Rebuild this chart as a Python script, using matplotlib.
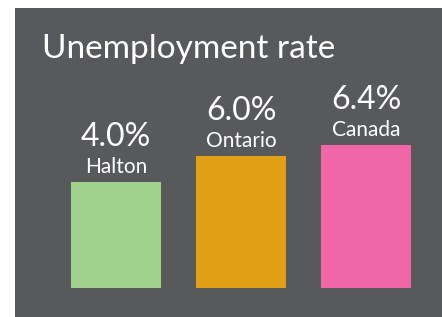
import matplotlib
matplotlib.use("Agg")
import matplotlib.pyplot as plt

# data
regions = ["Halton", "Ontario", "Canada"]
rates = [4.0, 6.0, 6.4]
# bar heights as drawn in the graphic (not to scale with rates)
bar_heights = [106, 132, 143]
colors = ["#a0d18c", "#e09f14", "#f066a6"]
title = "Unemployment rate"

plt.rcParams["font.family"] = ["Lato", "DejaVu Sans"]

W, H = 442, 317
fig = plt.figure(figsize=(W / 100, H / 100), dpi=100, facecolor="white")

# gray panel
ax = fig.add_axes([15 / W, 0, (W - 15) / W, (H - 8) / H])
ax.set_facecolor("#58595b")
for s in ax.spines.values():
    s.set_visible(False)
ax.set_xticks([])
ax.set_yticks([])

x = list(range(len(regions)))
ax.bar(x, bar_heights, width=0.72, color=colors)
ax.set_xlim(-0.808, 2.608)
ax.set_ylim(-29, 280)

for xi, h, name, r in zip(x, bar_heights, regions, rates):
    ax.annotate(name, (xi, h), xytext=(0, 6.5), textcoords="offset points",
                ha="center", va="baseline", color="white", fontsize=15)
    ax.annotate(f"{r:.1f}%", (xi, h), xytext=(0, 26), textcoords="offset points",
                ha="center", va="baseline", color="white", fontsize=23)

fig.text(42 / W, (H - 58) / H, title, ha="left", va="baseline",
         color="white", fontsize=24)

fig.savefig("out.png", dpi=100, facecolor="white")
